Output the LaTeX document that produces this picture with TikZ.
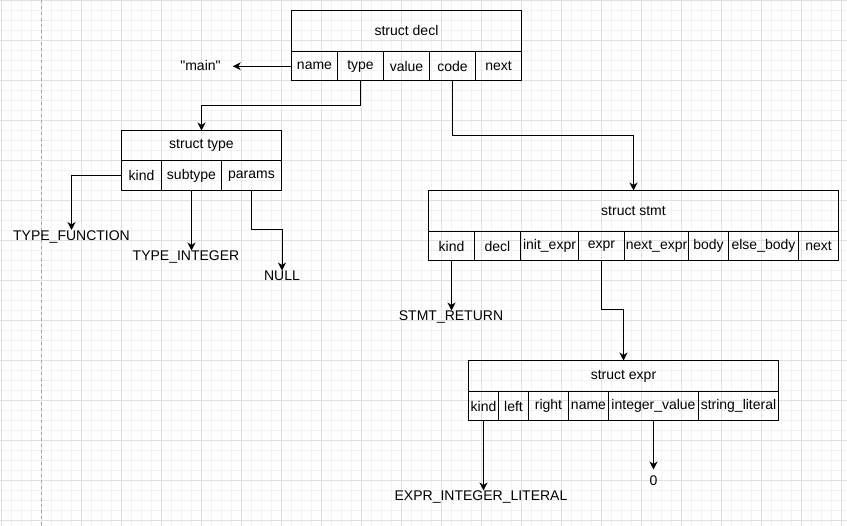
\documentclass[tikz,border=0pt]{standalone}
\usepackage{fontspec}
\setmainfont{Liberation Sans}[Ligatures=TeXOff]
\usetikzlibrary{arrows.meta,positioning}

\begin{document}
\begin{tikzpicture}[
    x=1pt, y=-1pt,
    every node/.style={font=\fontsize{14}{16}\selectfont},
    title/.style={draw, line width=1pt, inner sep=0pt, outer sep=0pt, anchor=north west},
    field/.style={draw, line width=1pt, inner sep=0pt, outer sep=0pt, minimum height=29.5pt},
    val/.style={inner sep=0pt, text height=10pt, text depth=0pt},
    ptr/.style={-{Stealth[length=8pt, width=8pt, inset=2.5pt]}, line width=1pt},
    gridminor/.style={draw=black!5, line width=1pt},
    gridmajor/.style={draw=black!12, line width=1pt}
]
\useasboundingbox (0,0) rectangle (847,526);
% background grid
\begin{scope}
\clip (0,0) rectangle (847,526);
\fill[white] (0,0) rectangle (847,526);
\foreach \i in {0,...,84} \draw[gridminor] (1.5+10*\i,0) -- (1.5+10*\i,526);
\foreach \i in {0,...,52} \draw[gridminor] (0,0.5+10*\i) -- (847,0.5+10*\i);
\foreach \i in {0,...,21} \draw[gridmajor] (1.5+40*\i,0) -- (1.5+40*\i,526);
\foreach \i in {0,...,13} \draw[gridmajor] (0,0.5+40*\i) -- (847,0.5+40*\i);
\draw[black!35, line width=1pt, dash pattern=on 3pt off 3pt] (41.5,0) -- (41.5,526);
\end{scope}

% struct decl
\node[title, minimum width=230pt, minimum height=41pt] (decl) at (291.5,10.5) {struct decl};
\node[field, minimum width=46pt, anchor=north west] (decl-name) at (decl.south west) {name};
\node[field, minimum width=46pt, right=0pt of decl-name] (decl-type) {type};
\node[field, minimum width=46pt, right=0pt of decl-type] (decl-value) {value};
\node[field, minimum width=46pt, right=0pt of decl-value] (decl-code) {code};
\node[field, minimum width=46pt, right=0pt of decl-code] (decl-next) {next};

% struct type
\node[title, minimum width=160pt, minimum height=30.5pt] (type) at (121.5,130.5) {struct type};
\node[field, minimum width=40pt, anchor=north west] (type-kind) at (type.south west) {kind};
\node[field, minimum width=60pt, right=0pt of type-kind] (type-subtype) {subtype};
\node[field, minimum width=60pt, right=0pt of type-subtype] (type-params) {params};

% struct stmt
\node[title, minimum width=410pt, minimum height=41pt] (stmt) at (428.5,190.5) {struct stmt};
\node[field, minimum width=46pt, anchor=north west] (stmt-kind) at (stmt.south west) {kind};
\node[field, minimum width=46pt, right=0pt of stmt-kind] (stmt-decl) {decl};
\node[field, minimum width=58pt, right=0pt of stmt-decl] (stmt-init) {init\_expr};
\node[field, minimum width=46pt, right=0pt of stmt-init] (stmt-expr) {expr};
\node[field, minimum width=64pt, right=0pt of stmt-expr] (stmt-nexpr) {next\_expr};
\node[field, minimum width=40pt, right=0pt of stmt-nexpr] (stmt-body) {body};
\node[field, minimum width=70pt, right=0pt of stmt-body] (stmt-else) {else\_body};
\node[field, minimum width=40pt, right=0pt of stmt-else] (stmt-next) {next};

% struct expr
\node[title, minimum width=310pt, minimum height=31pt] (expr) at (468.5,360.5) {struct expr};
\node[field, minimum width=30pt, anchor=north west] (expr-kind) at (expr.south west) {kind};
\node[field, minimum width=30pt, right=0pt of expr-kind] (expr-left) {left};
\node[field, minimum width=40pt, right=0pt of expr-left] (expr-right) {right};
\node[field, minimum width=40pt, right=0pt of expr-right] (expr-name) {name};
\node[field, minimum width=90pt, right=0pt of expr-name] (expr-ival) {integer\_value};
\node[field, minimum width=80pt, right=0pt of expr-ival] (expr-sval) {string\_literal};

% values
\node[val, inner xsep=12pt] (main) at (200.5,66) {"main"};
\node[val, anchor=north] (tfunc) at (71.5,230) {TYPE\_FUNCTION};
\node[val, anchor=north] (tint) at (186,250.5) {TYPE\_INTEGER};
\node[val, anchor=north] (tnull) at (282,270.5) {NULL};
\node[val, anchor=north] (sret) at (451,310.5) {STMT\_RETURN};
\node[val, anchor=north] (elit) at (481,490.5) {EXPR\_INTEGER\_LITERAL};
\node[val, anchor=north, inner ysep=6pt] (zero) at (653.5,469.5) {0};

% pointers
\draw[ptr] (decl-name.west) -- (decl-name.west -| main.east);
\draw[ptr] (decl-type.south) -- ++(0,24.5) -| (type.north);
\draw[ptr] (decl-code.south) -- ++(0,54.5) -| (stmt.north);
\draw[ptr] (type-kind.west) -| (tfunc.north);
\draw[ptr] (type-subtype.south) -- (type-subtype.south |- tint.north);
\draw[ptr] (type-params.south) -- ++(0,39.5) -| (tnull.north);
\draw[ptr] (stmt-kind.south) -- (stmt-kind.south |- sret.north);
\draw[ptr] (stmt-expr.south) -- ++(0,49) -| (expr.north);
\draw[ptr] (expr-kind.south) -- (expr-kind.south |- elit.north);
\draw[ptr] (expr-ival.south) -- (expr-ival.south |- zero.north);
\end{tikzpicture}
\end{document}
